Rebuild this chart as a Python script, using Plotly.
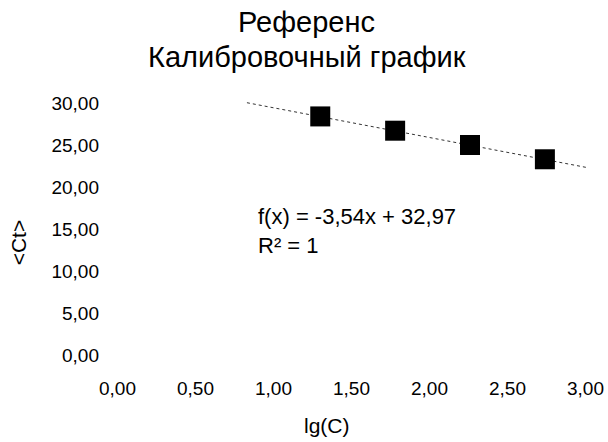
import numpy as np
import plotly.graph_objects as go

lg_c = [1.30, 1.78, 2.26, 2.74]
ct = [28.4, 26.7, 25.0, 23.3]
slope = -3.54
intercept = 32.97
trend_x = [0.83, 3.02]
title_lines = ["Референс", "Калибровочный график"]
eq_text = ["f(x) = -3,54x + 32,97", "R² = 1"]
x_ticks = [0, 0.5, 1, 1.5, 2, 2.5, 3]
y_ticks = [0, 5, 10, 15, 20, 25, 30]
x_title = "lg(C)"
y_title = "<Ct>"

FONT = "Liberation Sans, Arial, sans-serif"

tx = np.array(trend_x)
ty = slope * tx + intercept

fig = go.Figure()
fig.add_trace(go.Scatter(x=tx, y=ty, mode="lines",
                         line=dict(color="#333333", width=1, dash="dot"),
                         hoverinfo="skip", showlegend=False))
fig.add_trace(go.Scatter(x=lg_c, y=ct, mode="markers",
                         marker=dict(symbol="square", size=20, color="black"),
                         showlegend=False))

# titles
fig.add_annotation(x=0.4207, y=1.268, xref="paper", yref="paper",
                   text=title_lines[0], showarrow=False, xanchor="center", yanchor="middle",
                   font=dict(size=29, color="black", family=FONT))
fig.add_annotation(x=0.4207, y=1.142, xref="paper", yref="paper",
                   text=title_lines[1], showarrow=False, xanchor="center", yanchor="middle",
                   font=dict(size=29, color="black", family=FONT))
# equation
fig.add_annotation(x=0.317, y=0.565, xref="paper", yref="paper",
                   text=eq_text[0], showarrow=False, xanchor="left", yanchor="middle",
                   font=dict(size=22, color="black", family=FONT))
fig.add_annotation(x=0.317, y=0.460, xref="paper", yref="paper",
                   text=eq_text[1], showarrow=False, xanchor="left", yanchor="middle",
                   font=dict(size=22, color="black", family=FONT))
# axis titles
fig.add_annotation(x=0.461, y=-0.195, xref="paper", yref="paper",
                   text=x_title, showarrow=False, xanchor="center", yanchor="middle",
                   font=dict(size=21, color="black", family=FONT))
fig.add_annotation(x=-0.166, y=0.471, xref="paper", yref="paper",
                   text=y_title.replace("<", "&lt;").replace(">", "&gt;"),
                   showarrow=False, xanchor="center", yanchor="middle", textangle=-90,
                   font=dict(size=21, color="black", family=FONT))

fig.update_layout(
    width=608, height=442,
    margin=dict(l=100, r=16, t=96, b=70),
    paper_bgcolor="white", plot_bgcolor="white",
    separators=", ",
    font=dict(family=FONT, color="black", size=19),
    xaxis=dict(range=[-0.112, 3.042], tickvals=x_ticks, automargin=False,
               tickformat=".2f", showgrid=False, zeroline=False, showline=False,
               ticks="", ticklabelstandoff=3),
    yaxis=dict(range=[-2.02, 30.83], tickvals=y_ticks, automargin=False,
               tickformat=".2f", showgrid=False, zeroline=False, showline=False,
               ticks=""),
)

fig.write_html("out.html", config={"displayModeBar": False},
               post_script="document.body.style.margin='0';document.body.style.overflow='hidden';")
